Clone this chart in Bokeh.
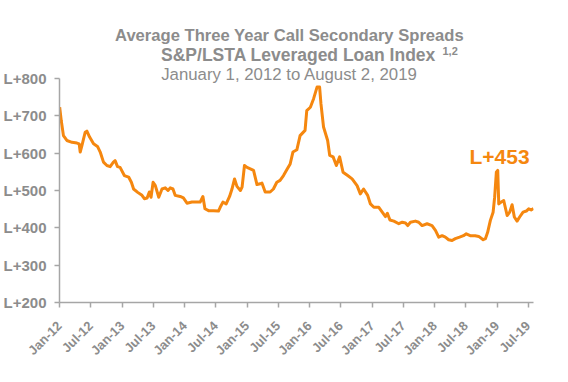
from math import pi
import pandas as pd
from bokeh.plotting import figure
from bokeh.models import Label, FixedTicker, CustomJSTickFormatter, Range1d
from bokeh.embed import file_html
from bokeh.resources import INLINE

# ---------------- data ----------------
dates = [
    "2012-01-02", "2012-01-11", "2012-01-24", "2012-02-13", "2012-03-14", "2012-04-12",
    "2012-04-25", "2012-05-01", "2012-05-11", "2012-05-30", "2012-06-09", "2012-06-25",
    "2012-07-18", "2012-08-10", "2012-08-26", "2012-09-14", "2012-10-04", "2012-10-23",
    "2012-11-11", "2012-11-21", "2012-12-05", "2012-12-20", "2013-01-14", "2013-02-08",
    "2013-02-24", "2013-03-09", "2013-04-02", "2013-04-27", "2013-05-11", "2013-05-27",
    "2013-06-09", "2013-06-19", "2013-07-01", "2013-07-14", "2013-08-03", "2013-08-22",
    "2013-09-10", "2013-09-26", "2013-10-09", "2013-10-25", "2013-11-07", "2013-12-06",
    "2013-12-25", "2014-01-15", "2014-02-13", "2014-03-14", "2014-04-02", "2014-04-18",
    "2014-04-30", "2014-05-21", "2014-06-19", "2014-07-18", "2014-07-28", "2014-08-13",
    "2014-09-01", "2014-09-21", "2014-10-05", "2014-10-20", "2014-11-03", "2014-11-23",
    "2014-12-03", "2014-12-17", "2015-01-01", "2015-01-20", "2015-02-08", "2015-02-28",
    "2015-03-19", "2015-03-29", "2015-04-17", "2015-05-16", "2015-06-04", "2015-06-24",
    "2015-07-13", "2015-08-02", "2015-08-22", "2015-09-10", "2015-09-26", "2015-10-19",
    "2015-11-07", "2015-12-06", "2015-12-16", "2016-01-06", "2016-01-25", "2016-02-14",
    "2016-02-29", "2016-03-08", "2016-03-23", "2016-04-16", "2016-04-28", "2016-05-18",
    "2016-06-06", "2016-06-25", "2016-07-15", "2016-08-11", "2016-09-06", "2016-10-05",
    "2016-10-24", "2016-11-12", "2016-12-06", "2016-12-22", "2017-01-11", "2017-02-09",
    "2017-03-01", "2017-03-20", "2017-03-31", "2017-04-15", "2017-05-08", "2017-06-06",
    "2017-06-26", "2017-07-15", "2017-07-28", "2017-08-13", "2017-09-11", "2017-09-30",
    "2017-10-20", "2017-11-18", "2017-12-17", "2018-01-06", "2018-01-25", "2018-02-14",
    "2018-03-05", "2018-03-24", "2018-04-13", "2018-05-02", "2018-05-27", "2018-06-19",
    "2018-07-05", "2018-07-28", "2018-08-26", "2018-09-16", "2018-10-12", "2018-10-25",
    "2018-11-07", "2018-11-23", "2018-12-09", "2018-12-18", "2018-12-28", "2019-01-05",
    "2019-01-11", "2019-01-25", "2019-02-09", "2019-03-01", "2019-03-16", "2019-03-30",
    "2019-04-12", "2019-04-28", "2019-05-13", "2019-06-02", "2019-06-21", "2019-07-05",
    "2019-07-19", "2019-08-02",
]
spreads = [
    723, 688, 647, 634, 629, 627,
    625, 603, 620, 656, 659, 643,
    625, 618, 603, 576, 567, 564,
    576, 580, 564, 562, 540, 536,
    522, 504, 495, 487, 478, 480,
    496, 482, 522, 513, 482, 504,
    507, 500, 507, 504, 487, 484,
    480, 466, 469, 469, 469, 484,
    451, 446, 446, 445, 455, 469,
    464, 484, 504, 531, 511, 500,
    509, 567, 562, 558, 554, 516,
    518, 520, 496, 496, 504, 522,
    527, 540, 556, 571, 603, 609,
    647, 661, 714, 723, 746, 777,
    777, 732, 670, 634, 594, 590,
    567, 590, 549, 540, 531, 513,
    491, 504, 487, 464, 455, 455,
    442, 430, 439, 421, 418, 411,
    415, 413, 406, 415, 418, 415,
    406, 411, 406, 393, 375, 379,
    375, 368, 366, 371, 375, 379,
    384, 379, 379, 377, 368, 371,
    388, 420, 442, 482, 549, 554,
    464, 469, 473, 433, 442, 462,
    429, 418, 429, 442, 445, 451,
    448, 452,
]
y_ticks = [200, 300, 400, 500, 600, 700, 800]
y_tick_labels = ["L+200", "L+300", "L+400", "L+500", "L+600", "L+700", "L+800"]
x_tick_dates = ["2012-01-01", "2012-07-01", "2013-01-01", "2013-07-01", "2014-01-01",
                "2014-07-01", "2015-01-01", "2015-07-01", "2016-01-01", "2016-07-01",
                "2017-01-01", "2017-07-01", "2018-01-01", "2018-07-01", "2019-01-01",
                "2019-07-01"]
x_tick_labels = ["Jan-12", "Jul-12", "Jan-13", "Jul-13", "Jan-14", "Jul-14", "Jan-15",
                 "Jul-15", "Jan-16", "Jul-16", "Jan-17", "Jul-17", "Jan-18", "Jul-18",
                 "Jan-19", "Jul-19"]
title_line1 = "Average Three Year Call Secondary Spreads"
title_line2 = "S&P/LSTA Leveraged Loan Index"
title_sup = "1,2"
title_line3 = "January 1, 2012 to August 2, 2019"
last_label = "L+453"
x_start = "2012-01-01"
x_end = "2019-08-02"
y_min, y_max = 200, 800

# ---------------- styling ----------------
ORANGE = "#F5870F"
GRAY_TEXT = "#8c8c8c"
GRAY_AXIS = "#a6a6a6"
FONT = "Liberation Sans"

W, H = 552, 366
B_LEFT, B_RIGHT, B_TOP, B_BOTTOM = 59, 19, 8, 64
AXIS_PX = 224  # pixel height of the 200..800 span
frame_h = H - B_TOP - B_BOTTOM
y_top = y_min + (y_max - y_min) * frame_h / AXIS_PX  # extra room above for titles

x = pd.to_datetime(dates)
tick_ms = [float(pd.Timestamp(d).value // 10**6) for d in x_tick_dates]

p = figure(width=W, height=H, x_axis_type="datetime",
           x_range=Range1d(pd.Timestamp(x_start), pd.Timestamp(x_end)),
           y_range=Range1d(y_min, y_top),
           output_backend="svg", toolbar_location=None,
           min_border_left=B_LEFT, min_border_right=B_RIGHT,
           min_border_top=B_TOP, min_border_bottom=B_BOTTOM)
p.outline_line_color = None
p.xgrid.grid_line_color = None
p.ygrid.grid_line_color = None
p.background_fill_color = "white"
p.border_fill_color = "white"

p.line(x=x, y=spreads, line_color=ORANGE, line_width=3, line_join="round")

# y axis
p.yaxis.ticker = FixedTicker(ticks=y_ticks)
p.yaxis.major_label_overrides = dict(zip(y_ticks, y_tick_labels))
p.yaxis.bounds = (y_min, y_max)
# x axis
p.xaxis.ticker = FixedTicker(ticks=tick_ms)
p.xaxis.formatter = CustomJSTickFormatter(
    args=dict(tpos=tick_ms, tlab=x_tick_labels),
    code="const i = tpos.indexOf(tick); return i >= 0 ? tlab[i] : '';")
p.xaxis.major_label_orientation = pi / 4

for ax in (p.xaxis, p.yaxis):
    ax.axis_line_color = GRAY_AXIS
    ax.axis_line_width = 1.5
    ax.major_tick_line_color = GRAY_AXIS
    ax.major_tick_line_width = 1.5
    ax.major_tick_out = 5
    ax.major_tick_in = 0
    ax.minor_tick_line_color = None
    ax.major_label_text_font = FONT
    ax.major_label_text_font_style = "bold"
    ax.major_label_text_color = GRAY_TEXT
p.yaxis.major_label_text_font_size = "15px"
p.yaxis.major_label_standoff = 8
p.xaxis.major_label_text_font_size = "13px"
p.xaxis.major_label_standoff = 16

def screen_label(txt, x0, y0, size, bold, color, align="center"):
    p.add_layout(Label(x=x0, y=y0, x_units="screen", y_units="screen", text=txt,
                       text_align=align, text_baseline="middle", text_font=FONT,
                       text_font_size=size, text_font_style="bold" if bold else "normal",
                       text_color=color))

screen_label(title_line1, 230, 267, "16.6px", True, GRAY_TEXT)
screen_label(title_line2, 239, 248, "17.5px", True, GRAY_TEXT)
screen_label(title_sup, 383, 252, "11px", True, GRAY_TEXT, align="left")
screen_label(title_line3, 230, 228, "16.8px", False, GRAY_TEXT)
screen_label(last_label, 410, 146, "21px", True, ORANGE, align="left")

open("out.html", "w").write(file_html(p, INLINE))
